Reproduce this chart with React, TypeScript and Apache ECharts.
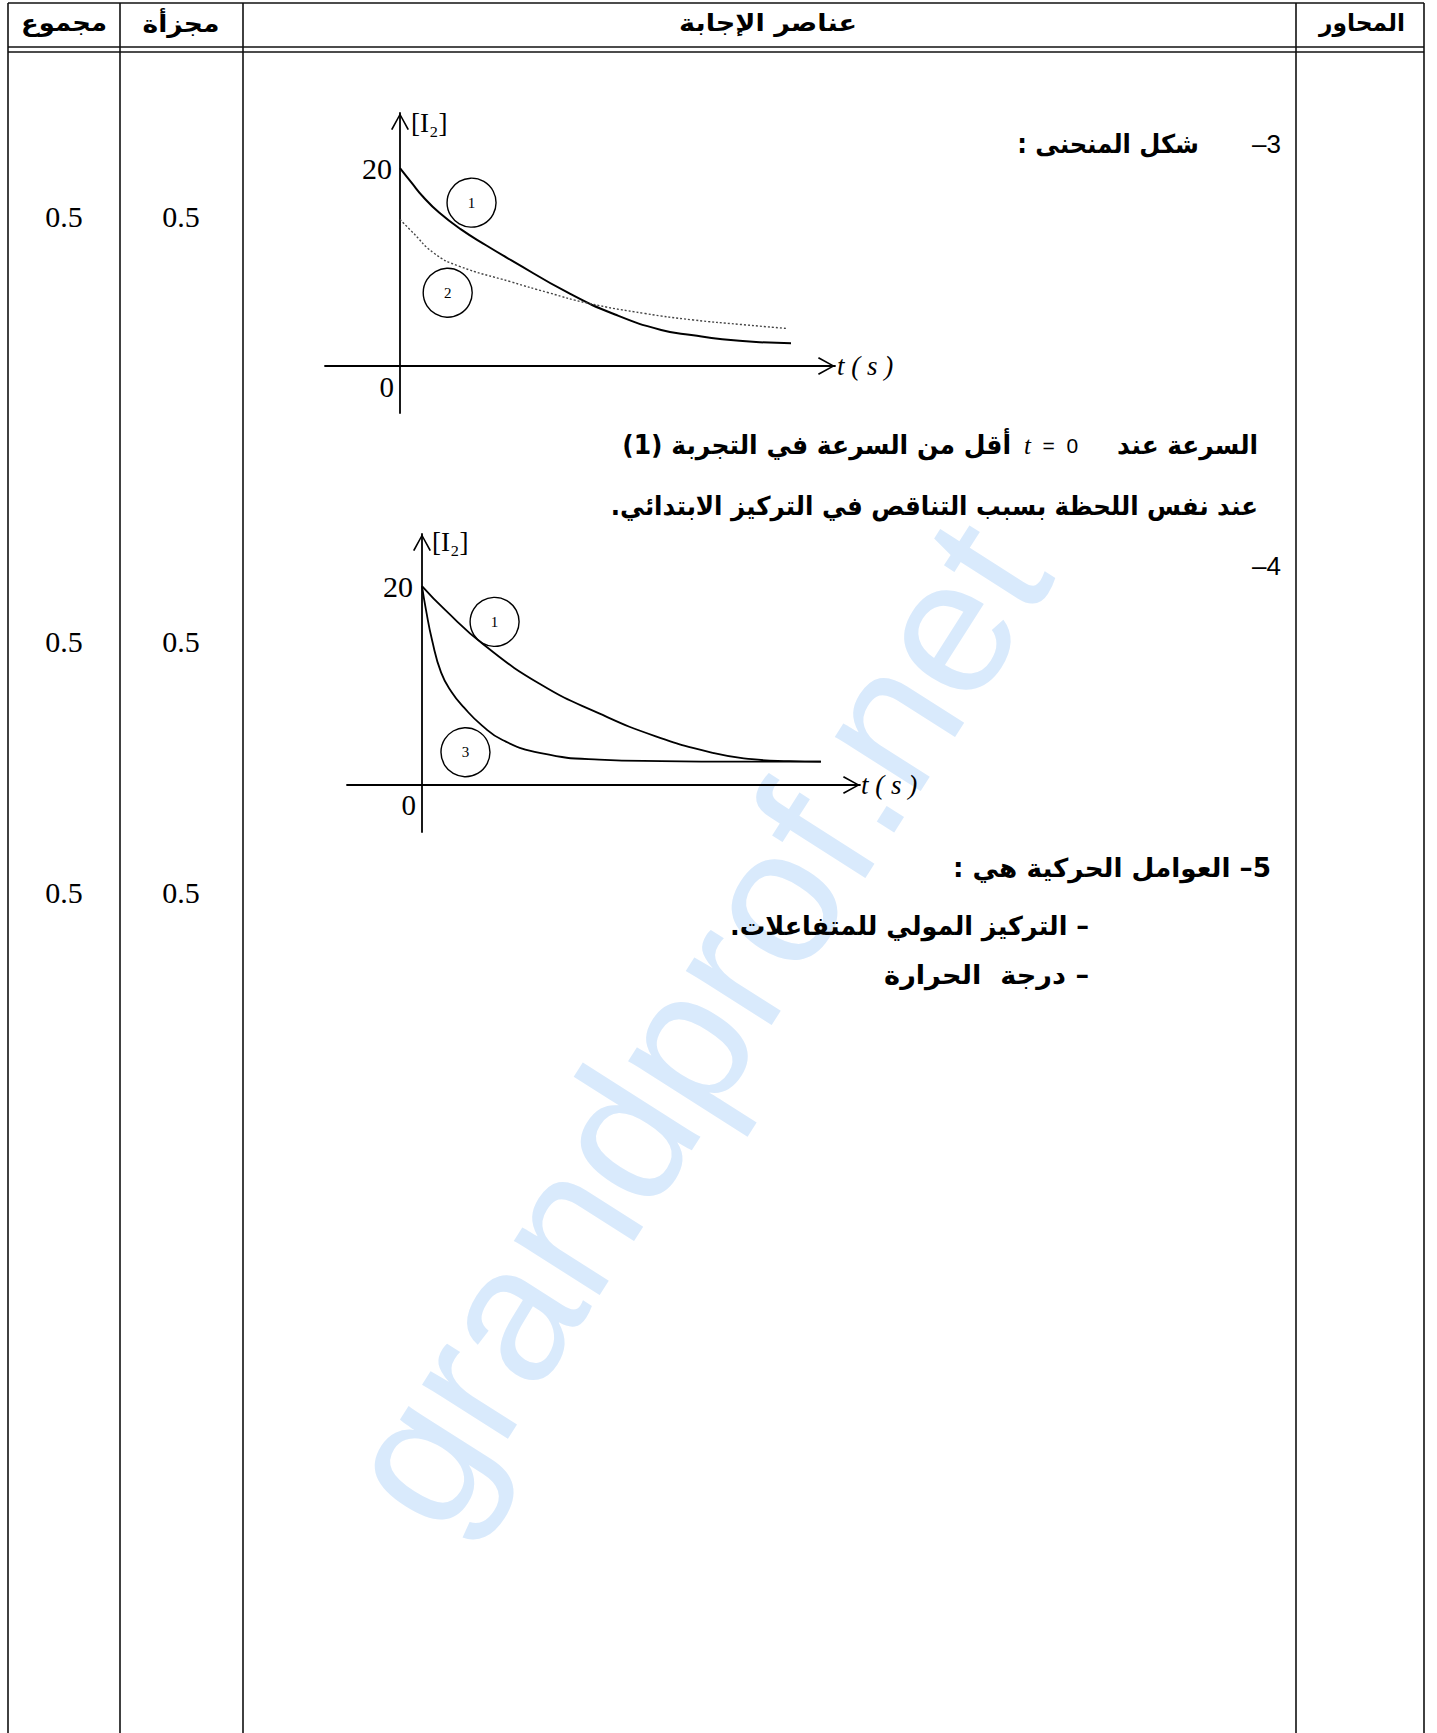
import React, { useEffect, useRef } from 'react';
import * as echarts from 'echarts';

const W = 1437;
const H = 1733;

// ---------- data ----------
// chart A (question 3): curve 1 (solid) and curve 2 (dotted)
const chartACurve1: number[][] = [[0, 20], [0.3, 18.5], [0.59, 17.1], [1.0, 15.5], [1.56, 13.8], [2.2, 12.2], [2.84, 10.7], [4.32, 7.35], [5.5, 5.2], [6.68, 3.64], [7.5, 3.1], [8.24, 2.7], [9.2, 2.4], [10, 2.3]];
const chartACurve2: number[][] = [[0, 14.8], [0.3, 13.6], [0.87, 11.4], [1.5, 10.1], [2.84, 8.5], [3.8, 7.4], [4.8, 6.35], [6.27, 5.3], [7.5, 4.65], [8.7, 4.2], [9.87, 3.8]];
// chart B (question 4): curve 1 and curve 3
const chartBCurve1: number[][] = [[0, 20], [0.58, 17.6], [1.55, 14.1], [2.98, 10.1], [4.44, 7.2], [5.86, 4.9], [7.32, 3.2], [8.27, 2.6], [9.2, 2.4], [10, 2.35]];
const chartBCurve3: number[][] = [[0, 20], [0.1, 17.6], [0.25, 14.6], [0.48, 11.3], [0.75, 9.3], [1.05, 7.8], [1.5, 6.0], [2.03, 4.5], [2.98, 3.2], [4.44, 2.55], [6, 2.4], [8, 2.35], [10, 2.35]];
// circled curve numbers (data coordinates)
const chartATags = [{ name: '1', coord: [1.83, 16.5] }, { name: '2', coord: [1.22, 7.4] }];
const chartBTags = [{ name: '1', coord: [1.82, 16.4] }, { name: '3', coord: [1.09, 3.3] }];
// tick labels
const yTickValues = [20];
const xTickValues = [0];
const yAxisTitle = '[I\u2082]';
const xAxisTitle = 't ( s )';

// texts
const headerLabels = ['مجموع', 'مجزأة', 'عناصر الإجابة', 'المحاور'];
const gradeLabels = ['0.5', '0.5', '0.5'];
const q3Num = '3–';
const q3Title = 'شكل المنحنى :';
const s1Right = 'السرعة عند';
const s1Left = 'أقل من السرعة في التجربة (1)';
const s2 = 'عند نفس اللحظة بسبب التناقص في التركيز الابتدائي.';
const q4Title = '4–';
const q5Title = '5– العوامل الحركية هي :';
const factor1 = '– التركيز المولي للمتفاعلات.';
const factor2 = '– درجة  الحرارة';
const watermark = 'grandprof.net';

// ---------- helpers ----------
const rtl = (s: string) => '\u202B' + s + '\u202C';
const AR = 'DejaVu Sans';
const SERIF = 'Liberation Serif';
const arrowPath = 'path://M0 17 L9.5 0 L19 17 L17.4 17.9 L9.5 3.2 L1.6 17.9 Z';

let measureCtx: CanvasRenderingContext2D | null = null;
function measure(text: string, font: string) {
  if (!measureCtx) measureCtx = document.createElement('canvas').getContext('2d');
  measureCtx!.font = font;
  return measureCtx!.measureText(text).width;
}

function makeAxes(gi: number, xMin: number, xMax: number, yMin: number, yMax: number, n: any) {
  const axisLine = {
    onZero: true,
    lineStyle: { color: '#000', width: 1.8 },
    symbol: ['none', arrowPath],
    symbolSize: [19, 17],
    symbolOffset: [0, -8.5],
  };
  const x = {
    type: 'value', gridIndex: gi, min: xMin, max: xMax,
    axisLine, axisTick: { show: false }, splitLine: { show: false },
    axisLabel: {
      customValues: xTickValues, align: 'right', verticalAlign: 'top', margin: n.x0Margin,
      padding: [0, 6, 0, 0], fontFamily: SERIF, fontSize: 29, color: '#000',
    },
    name: xAxisTitle, nameLocation: 'end', nameGap: n.xGap,
    nameTextStyle: { fontFamily: SERIF, fontStyle: 'italic', fontSize: 27, color: '#000', align: 'left', verticalAlign: 'middle', padding: [0, 0, n.xPadB, 0] },
  };
  const y = {
    type: 'value', gridIndex: gi, min: yMin, max: yMax,
    axisLine, axisTick: { show: false }, splitLine: { show: false },
    axisLabel: { customValues: yTickValues, margin: n.yLabMargin, fontFamily: SERIF, fontSize: 30, color: '#000' },
    name: yAxisTitle, nameLocation: 'end', nameGap: n.yGap,
    nameTextStyle: { fontFamily: SERIF, fontSize: 27, color: '#000', align: 'left', verticalAlign: 'middle', padding: [0, 0, 0, n.yPadL] },
  };
  return { x, y };
}

function tagPoints(tags: { name: string; coord: number[] }[]) {
  return {
    silent: true,
    symbol: 'circle',
    symbolSize: 49,
    itemStyle: { color: 'rgba(255,255,255,0)', borderColor: '#000', borderWidth: 1.4 },
    label: { show: true, position: 'inside', formatter: (p: any) => p.name, color: '#000', fontFamily: SERIF, fontSize: 15 },
    data: tags.map((t) => ({ name: t.name, coord: t.coord })),
  };
}

// Arabic text fitted to the width it takes in the reference
function ar(x: number, y: number, text: string, targetW: number, align = 'right', size = 26) {
  const font = `bold ${size}px "${AR}"`;
  const w = measure(text, font) || targetW;
  return {
    type: 'text', x, y, z: 50, scaleX: targetW / w,
    style: { text, fontFamily: AR, fontSize: size, fontWeight: 'bold', fill: '#000', align, verticalAlign: 'middle' },
  };
}

function txt(x: number, y: number, text: string, opts: any = {}) {
  return {
    type: 'text', x, y, z: 50,
    style: {
      text, fontFamily: opts.fontFamily || AR, fontSize: opts.fontSize || 22, fontWeight: opts.fontWeight || 'normal',
      fill: '#000', align: opts.align || 'right', verticalAlign: 'middle', rich: opts.rich,
    },
  };
}

function ln(x1: number, y1: number, x2: number, y2: number, w = 1.6) {
  return { type: 'line', z: 40, shape: { x1, y1, x2, y2 }, style: { stroke: '#111', lineWidth: w } };
}

export default function App() {
  const ref = useRef<HTMLDivElement>(null);
  useEffect(() => {
    const chart = echarts.init(ref.current!, null, { renderer: 'svg', width: W, height: H });
    const a = makeAxes(0, -1.918, 11.125, -4.75, 25.56, { x0Margin: -41, xGap: 2, xPadB: 30, yGap: -10, yPadL: 11, yLabMargin: -67 });
    const b = makeAxes(1, -1.88, 10.98, -4.72, 25.23, { x0Margin: -42, xGap: 1, xPadB: 30, yGap: -8, yPadL: 10, yLabMargin: -66 });

    const cols = [8, 120, 243, 1296, 1424];
    const num = { align: 'center', fontFamily: SERIF, fontSize: 30 };
    const graphics: any[] = [
      {
        type: 'text', x: 694, y: 1023, z: -10, rotation: (57.5 * Math.PI) / 180,
        style: { text: watermark, fontFamily: 'Liberation Sans', fontSize: 192, fill: '#d9eafc', align: 'center', verticalAlign: 'middle' },
      },
      ln(8, 3, 1424, 3),
      ln(8, 47, 1424, 47),
      ln(8, 52, 1424, 52),
      ...cols.map((c) => ln(c, 3, c, 1733)),
      ar(64, 23, headerLabels[0], 86, 'center', 24),
      ar(181, 23, headerLabels[1], 77, 'center', 24),
      ar(768, 23, headerLabels[2], 178, 'center', 24),
      ar(1362, 23, headerLabels[3], 86, 'center', 24),
      txt(64, 216, gradeLabels[0], num),
      txt(181, 216, gradeLabels[0], num),
      txt(64, 641, gradeLabels[1], num),
      txt(181, 641, gradeLabels[1], num),
      txt(64, 892, gradeLabels[2], num),
      txt(181, 892, gradeLabels[2], num),
      txt(1281, 144, rtl(q3Num), { fontFamily: 'Liberation Sans', fontSize: 26 }),
      ar(1199, 144, rtl(q3Title), 182),
      ar(1258, 445, rtl(s1Right), 141),
      txt(1024, 445, '{i|t}  =  0', { align: 'left', fontFamily: 'Liberation Sans', fontSize: 21, rich: { i: { fontFamily: SERIF, fontStyle: 'italic', fontSize: 25 } } }),
      ar(1011, 445, rtl(s1Left), 389),
      ar(1258, 506, rtl(s2), 648),
      txt(1281, 566, rtl(q4Title), { fontFamily: 'Liberation Sans', fontSize: 26 }),
      ar(1271, 868, rtl(q5Title), 318),
      ar(1089, 926, rtl(factor1), 359),
      ar(1089, 975, rtl(factor2), 205),
    ];

    const lineCommon = { type: 'line', symbol: 'none', showSymbol: false, smooth: 0.5, silent: true };

    chart.setOption({
      animation: false,
      backgroundColor: '#fff',
      grid: [
        { left: 325, top: 113, width: 510, height: 300, containLabel: false },
        { left: 347, top: 534, width: 513, height: 298, containLabel: false },
      ],
      xAxis: [a.x, b.x],
      yAxis: [a.y, b.y],
      series: [
        { ...lineCommon, name: 'A1', xAxisIndex: 0, yAxisIndex: 0, data: chartACurve1, lineStyle: { color: '#000', width: 2 }, markPoint: tagPoints(chartATags) },
        { ...lineCommon, name: 'A2', xAxisIndex: 0, yAxisIndex: 0, data: chartACurve2, lineStyle: { color: '#444', width: 1.4, type: [2, 2] } },
        { ...lineCommon, name: 'B1', xAxisIndex: 1, yAxisIndex: 1, data: chartBCurve1, lineStyle: { color: '#000', width: 1.8 }, markPoint: tagPoints(chartBTags) },
        { ...lineCommon, name: 'B3', xAxisIndex: 1, yAxisIndex: 1, data: chartBCurve3, lineStyle: { color: '#000', width: 1.8 } },
      ],
      graphic: graphics,
    });
    return () => chart.dispose();
  }, []);
  return <div ref={ref} style={{ position: 'absolute', left: 0, top: 0, width: W, height: H, background: '#fff' }} />;
}
